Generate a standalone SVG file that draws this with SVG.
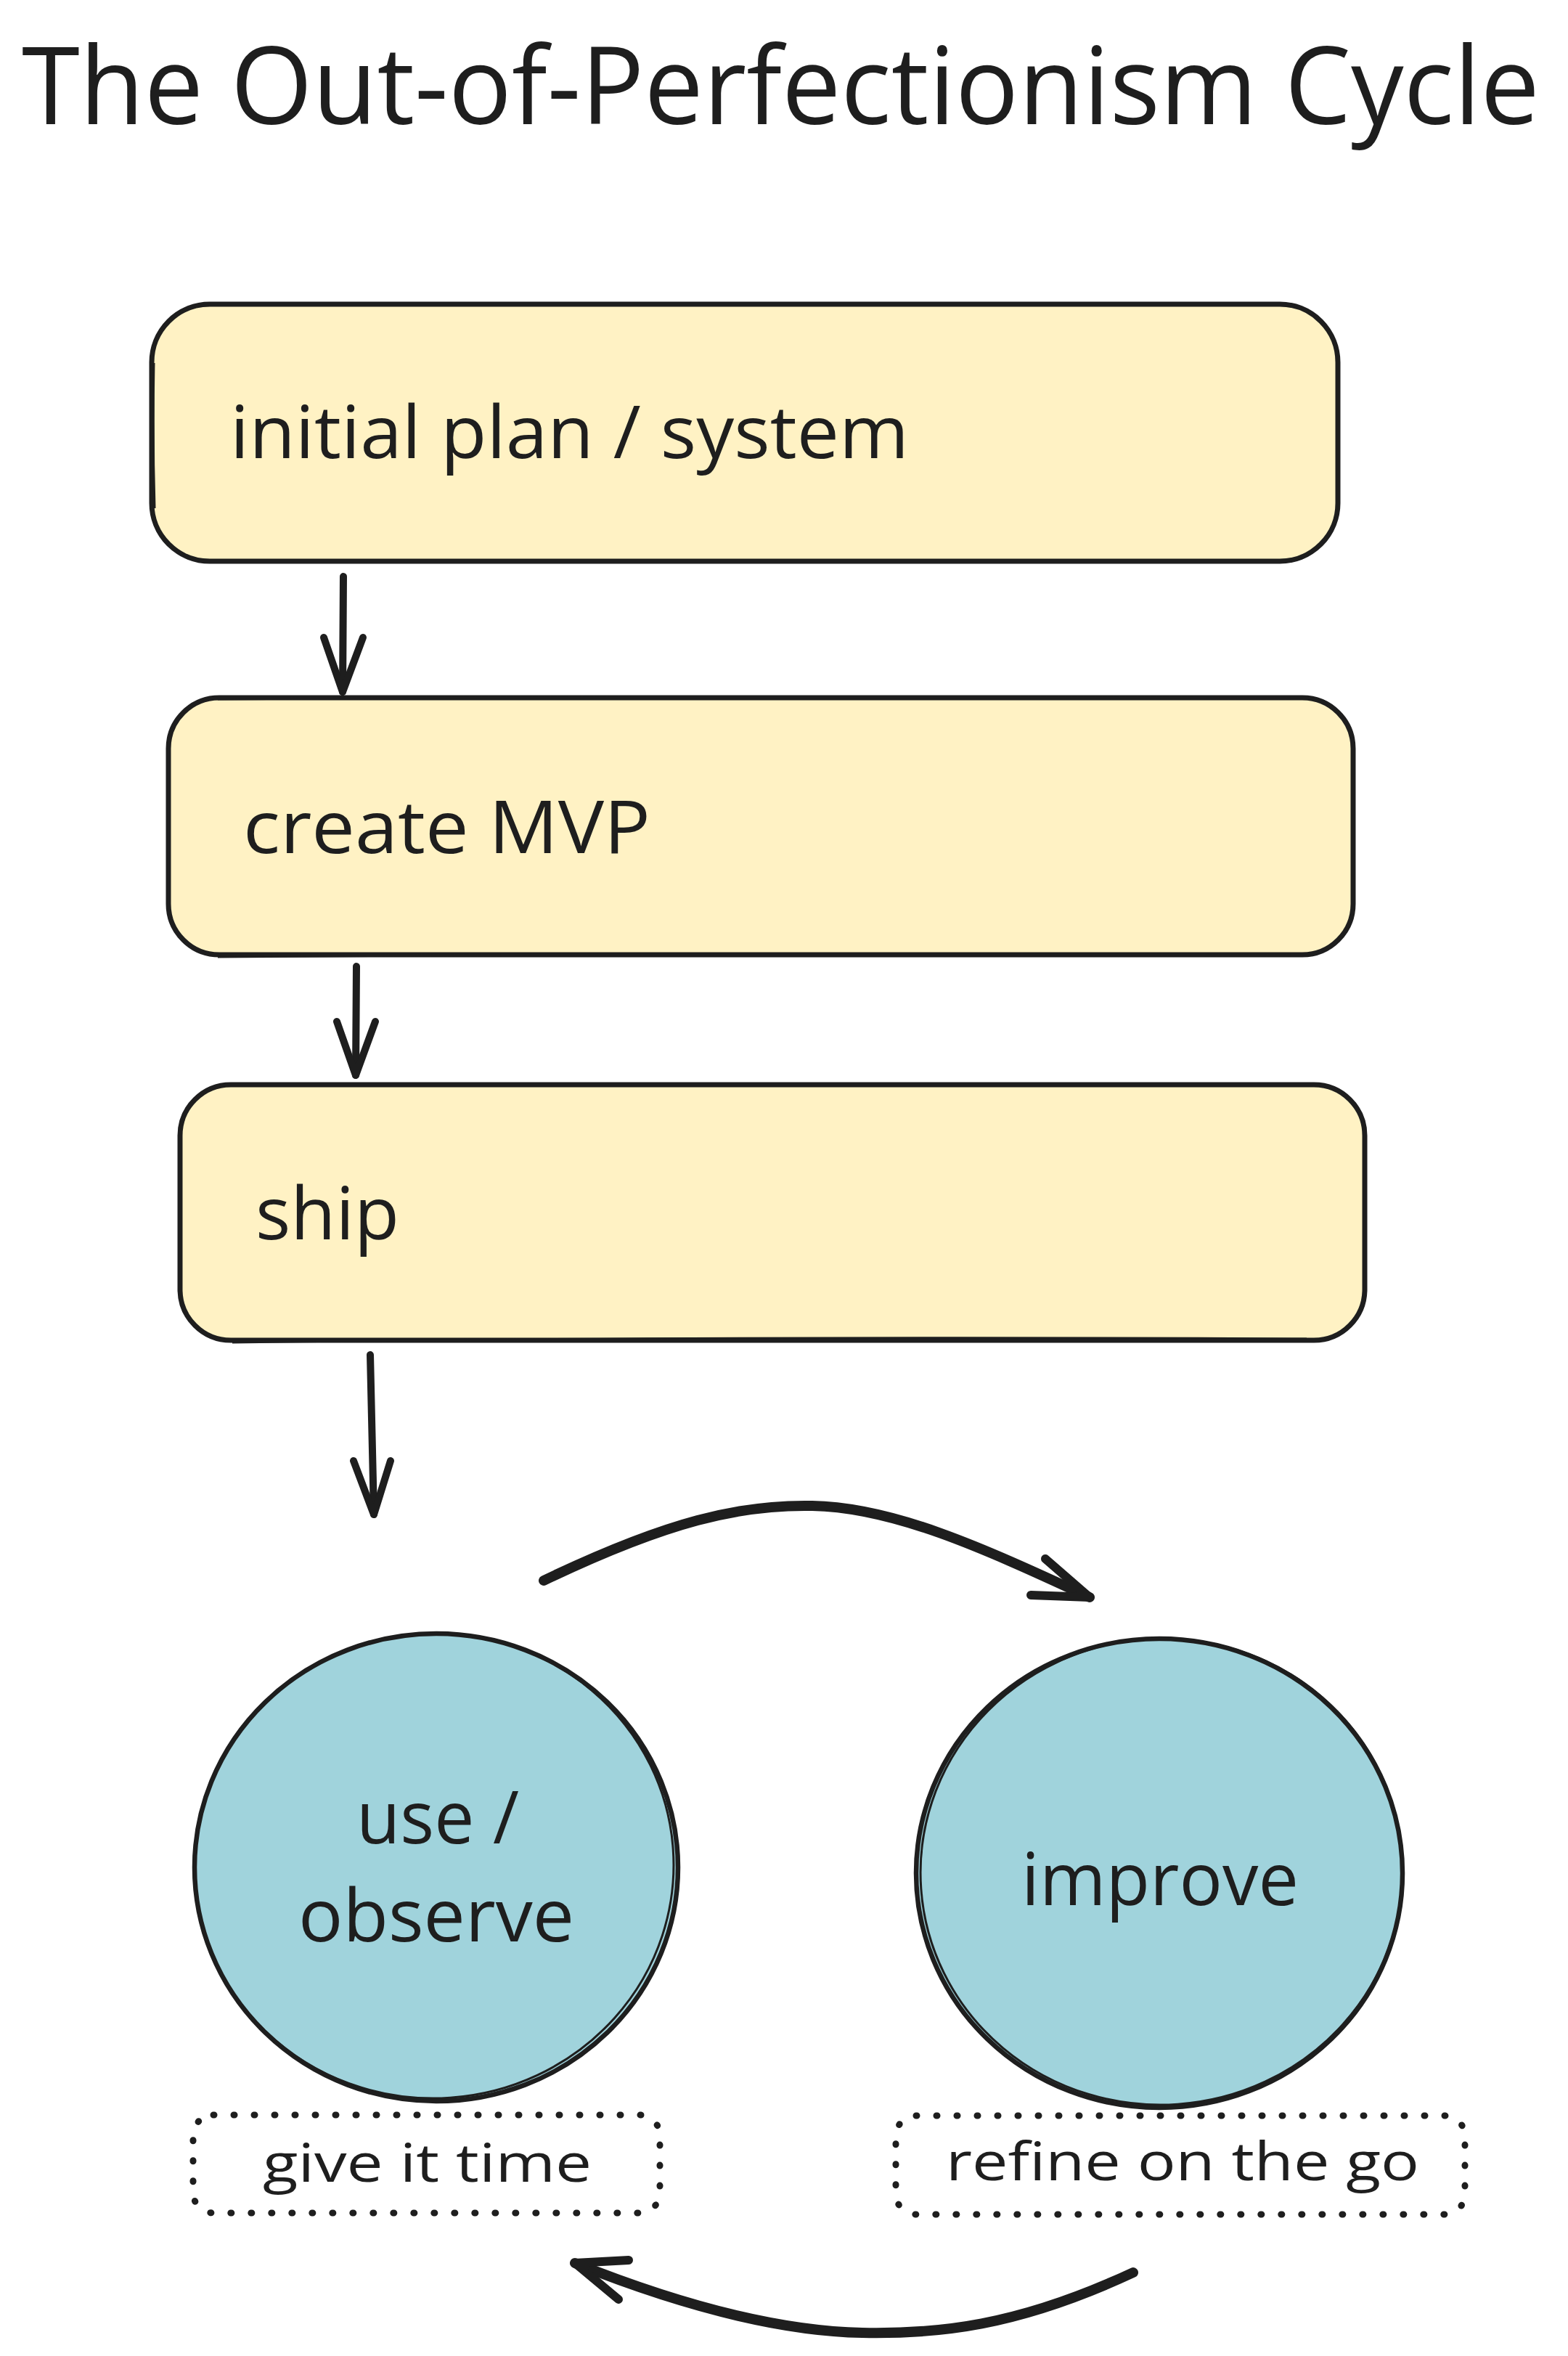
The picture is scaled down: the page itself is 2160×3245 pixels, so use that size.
<svg xmlns="http://www.w3.org/2000/svg" width="2160" height="3245" viewBox="0 0 2160 3245">
  <defs>
    <style>
      .bg { fill: #ffffff; }
      .box { fill: #fff2c4; stroke: #1e1e1e; stroke-width: 7; }
      .sketch { fill: none; stroke: #1e1e1e; stroke-width: 3; }
      .circ { fill: #a0d3dc; stroke: #1e1e1e; stroke-width: 6.5; }
      .note { fill: none; stroke: #1e1e1e; stroke-width: 9; stroke-linecap: round; stroke-dasharray: 1 27; }
      .lbl { font-family: "Open Sans", "Noto Sans", sans-serif; fill: #1e1e1e; }
      .hand { font-family: "Open Sans", "Noto Sans", sans-serif; fill: #1e1e1e; font-size: 74px; }
      .arr { fill: none; stroke: #1e1e1e; stroke-width: 10; stroke-linecap: round; stroke-linejoin: round; }
      .carr { fill: none; stroke: #1e1e1e; stroke-width: 14; stroke-linecap: round; stroke-linejoin: round; }
      .head { fill: none; stroke: #1e1e1e; stroke-width: 12; stroke-linecap: round; stroke-linejoin: round; }
    </style>
  </defs>
  <rect class="bg" x="0" y="0" width="2160" height="3245"/>

  <g id="title">
    <text class="lbl" x="30" y="171" font-size="148" textLength="2091" lengthAdjust="spacingAndGlyphs">The Out-of-Perfectionism Cycle</text>
  </g>

  <g id="node-initial-plan">
    <rect class="box" x="209" y="419" width="1634" height="354" rx="80" ry="80"/>
    <path class="sketch" d="M212,500 Q210,600 213,700"/>
    <text class="lbl" x="317" y="631" font-size="100" textLength="935" lengthAdjust="spacingAndGlyphs">initial plan / system</text>
  </g>

  <g id="node-create-mvp">
    <rect class="box" x="232" y="961" width="1632" height="354" rx="70" ry="70"/>
    <path class="sketch" d="M300,963 Q1000,958 1790,962"/>
    <path class="sketch" d="M300,1318 Q1000,1312 1790,1316"/>
    <text class="lbl" x="335" y="1175" font-size="100" textLength="561" lengthAdjust="spacingAndGlyphs">create MVP</text>
  </g>

  <g id="node-ship">
    <rect class="box" x="248" y="1494" width="1632" height="352" rx="70" ry="70"/>
    <path class="sketch" d="M320,1849 Q1000,1840 1800,1844"/>
    <text class="lbl" x="352" y="1707" font-size="100" textLength="198" lengthAdjust="spacingAndGlyphs">ship</text>
  </g>

  <g id="node-use-observe">
    <ellipse class="circ" cx="601" cy="2572" rx="333" ry="322"/>
    <ellipse class="sketch" cx="598" cy="2570" rx="330" ry="320" transform="rotate(-4 598 2570)"/>
    <text class="lbl" x="603" y="2539" font-size="100" text-anchor="middle" textLength="224" lengthAdjust="spacingAndGlyphs">use /</text>
    <text class="lbl" x="601" y="2674" font-size="100" text-anchor="middle" textLength="380" lengthAdjust="spacingAndGlyphs">observe</text>
  </g>

  <g id="node-improve">
    <ellipse class="circ" cx="1597" cy="2580" rx="335" ry="323"/>
    <ellipse class="sketch" cx="1600" cy="2578" rx="332" ry="321" transform="rotate(-4 1600 2578)"/>
    <text class="lbl" x="1598" y="2624" font-size="100" text-anchor="middle" textLength="382" lengthAdjust="spacingAndGlyphs">improve</text>
  </g>

  <g id="note-give-it-time">
    <rect class="note" x="266" y="2913" width="643" height="135" rx="28" ry="28"/>
    <text class="hand" x="362" y="3005" textLength="453" lengthAdjust="spacingAndGlyphs">give it time</text>
  </g>

  <g id="note-refine">
    <rect class="note" x="1234" y="2914" width="784" height="136" rx="28" ry="28"/>
    <text class="hand" x="1303" y="3003" textLength="652" lengthAdjust="spacingAndGlyphs">refine on the go</text>
  </g>

  <g id="connectors">
    <path class="arr" d="M473,794 L472,953"/>
    <path class="arr" d="M446,878 L472,953 L500,878"/>

    <path class="arr" d="M491,1331 L490,1481"/>
    <path class="arr" d="M464,1407 L490,1481 L517,1407"/>

    <path class="arr" d="M510,1866 L515,2086"/>
    <path class="arr" d="M487,2012 L515,2086 L538,2012"/>

    <path class="carr" d="M749,2177 C 920,2095 1020,2072 1119,2074 C 1230,2076 1350,2130 1501,2200"/>
    <path class="head" d="M1440,2147 L1501,2200 L1420,2197"/>

    <path class="carr" d="M1561,3130 C 1400,3205 1290,3215 1188,3213 C 1080,3211 950,3180 792,3117"/>
    <path class="head" d="M866,3113 L792,3117 L852,3167"/>
  </g>
</svg>
